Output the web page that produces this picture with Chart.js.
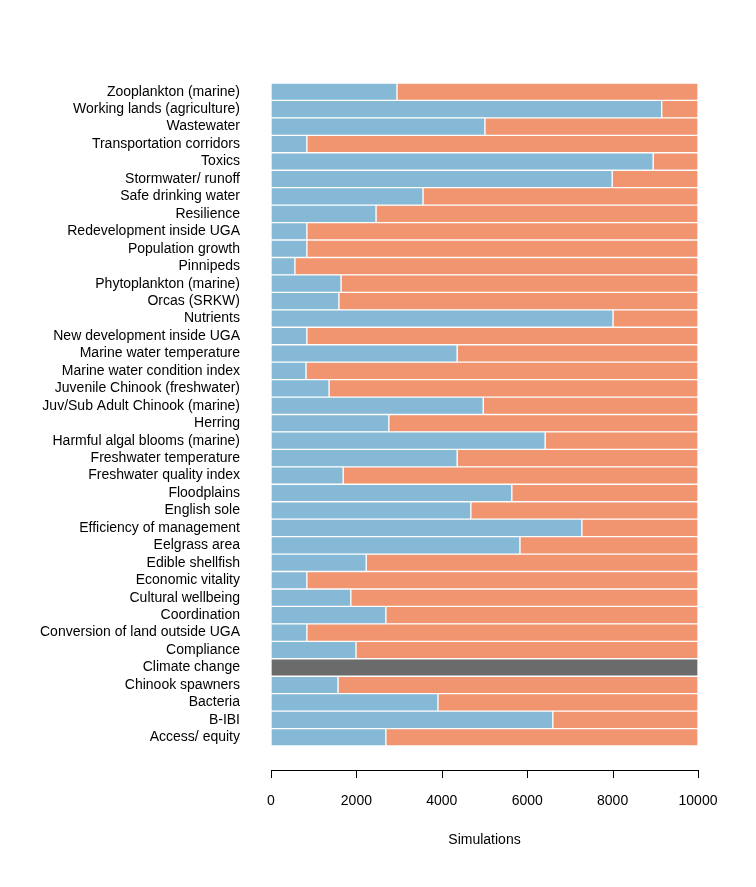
<!DOCTYPE html>
<html><head><meta charset="utf-8">
<script src="https://cdn.jsdelivr.net/npm/chart.js@4/dist/chart.umd.min.js"></script>
<style>html,body{margin:0;padding:0;background:#fff}#w{width:756px;height:887px}</style>
</head><body><div id="w"><canvas id="c"></canvas></div>
<script>
const categories = ["Zooplankton (marine)","Working lands (agriculture)","Wastewater","Transportation corridors","Toxics","Stormwater/ runoff","Safe drinking water","Resilience","Redevelopment inside UGA","Population growth","Pinnipeds","Phytoplankton (marine)","Orcas (SRKW)","Nutrients","New development inside UGA","Marine water temperature","Marine water condition index","Juvenile Chinook (freshwater)","Juv/Sub Adult Chinook (marine)","Herring","Harmful algal blooms (marine)","Freshwater temperature","Freshwater quality index","Floodplains","English sole","Efficiency of management","Eelgrass area","Edible shellfish","Economic vitality","Cultural wellbeing","Coordination","Conversion of land outside UGA","Compliance","Climate change","Chinook spawners","Bacteria","B-IBI","Access/ equity"];
const blueValues = [2950,9150,5010,840,8950,7990,3560,2460,840,840,560,1640,1590,8010,840,4360,820,1360,4970,2760,6420,4360,1690,5640,4680,7280,5830,2230,840,1870,2690,840,1990,0,1570,3910,6600,2690];
const grayValues = categories.map(c => c === "Climate change" ? 10000 : 0);
const orangeValues = blueValues.map((v,i) => grayValues[i] ? 0 : 10000 - v);
const xTicks = [0,2000,4000,6000,8000,10000];
const FONT = "Liberation Sans, Arial, sans-serif";

const axisPlugin = {
  id:'axisPlugin',
  afterDraw(chart){
    const ctx = chart.ctx, x = chart.scales.x;
    const y0 = 770;
    ctx.save();
    ctx.strokeStyle = '#000'; ctx.lineWidth = 1;
    ctx.beginPath();
    ctx.moveTo(x.getPixelForValue(xTicks[0]), y0+0.5);
    ctx.lineTo(x.getPixelForValue(xTicks[xTicks.length-1]), y0+0.5);
    xTicks.forEach(t => { const p = Math.round(x.getPixelForValue(t))+0.5; ctx.moveTo(p,y0); ctx.lineTo(p,y0+8); });
    ctx.stroke();
    ctx.fillStyle = '#000'; ctx.font = '14px ' + FONT;
    ctx.textAlign = 'center'; ctx.textBaseline = 'middle';
    xTicks.forEach(t => ctx.fillText(String(t), x.getPixelForValue(t), 801));
    ctx.fillText('Simulations', (x.left + x.right)/2, 840);
    ctx.restore();
  }
};

new Chart(document.getElementById('c'), {
  type:'bar',
  data:{labels:categories, datasets:[
    {data:blueValues, backgroundColor:'#85b9d6', borderColor:'#fff', borderWidth:1, borderSkipped:false},
    {data:orangeValues, backgroundColor:'#f0956f', borderColor:'#fff', borderWidth:1, borderSkipped:false},
    {data:grayValues, backgroundColor:'#6b6b6b', borderColor:'#fff', borderWidth:1, borderSkipped:false}
  ]},
  options:{
    indexAxis:'y', responsive:true, maintainAspectRatio:false, animation:false,
    layout:{padding:{left:0,right:58,top:83,bottom:141}},
    plugins:{legend:{display:false}, tooltip:{enabled:false}},
    datasets:{bar:{categoryPercentage:1, barPercentage:1}},
    scales:{
      x:{stacked:true, min:0, max:10000, display:false},
      y:{stacked:true, grid:{display:false}, border:{display:false},
         ticks:{color:'#000', font:{family:FONT, size:14}, padding:23, autoSkip:false},
         afterFit(s){ s.width = 271; }}
    }
  },
  plugins:[axisPlugin]
});
</script></body></html>
